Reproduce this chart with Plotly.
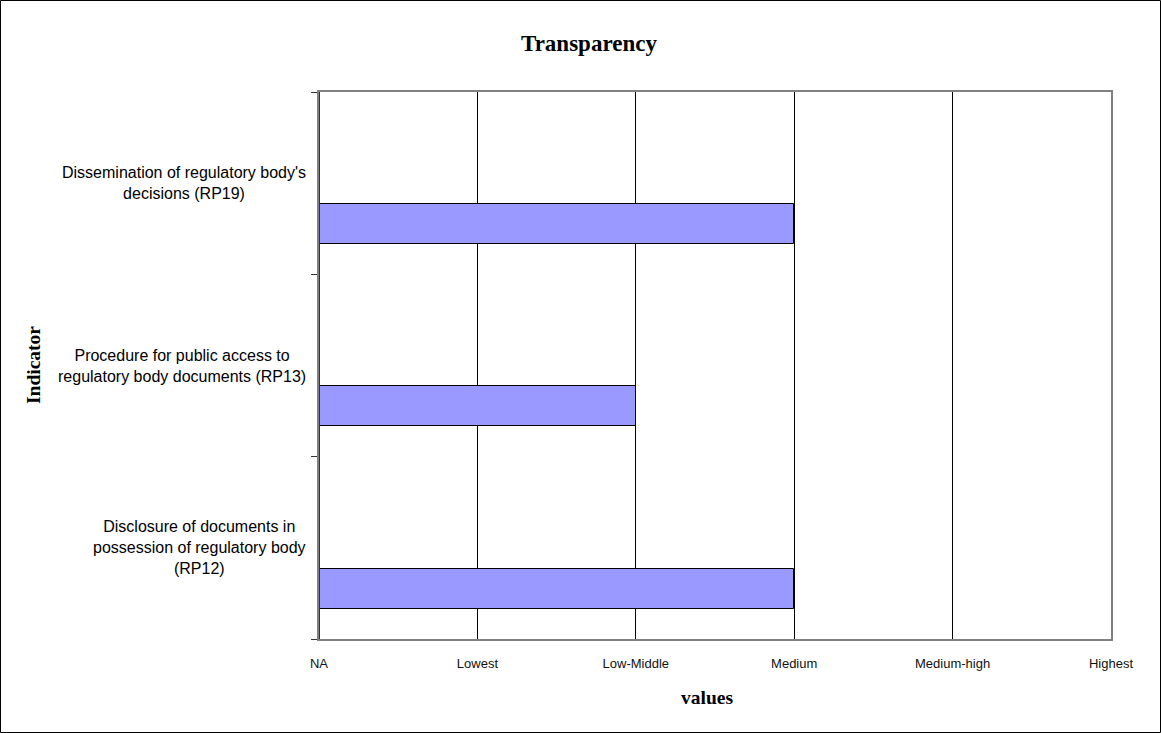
import plotly.graph_objects as go

# ---- data ----
indicators = [
    "Disclosure of documents in<br>possession of regulatory body<br>(RP12)",
    "Procedure for public access to<br>regulatory body documents (RP13)",
    "Dissemination of regulatory body's<br>decisions (RP19)",
]
indicator_keys = ["RP12", "RP13", "RP19"]
values = [3, 2, 3]
level_labels = ["NA", "Lowest", "Low-Middle", "Medium", "Medium-high", "Highest"]
level_values = [0, 1, 2, 3, 4, 5]

# ---- layout geometry ----
W, H = 1161, 733
L, R, T, B = 319, 50, 92, 94
pw, ph = W - L - R, H - T - B

def px_x(px):
    return (px - L) / pw

def px_y(py):
    return (H - B - py) / ph

fig = go.Figure()
fig.add_trace(go.Bar(
    y=indicator_keys,
    x=values,
    orientation="h",
    offset=-0.334,
    width=0.22,
    marker=dict(color="#9999FF", line=dict(color="#000000", width=1)),
    showlegend=False,
    hoverinfo="x+y",
))

annotations = []
for key, label in zip(indicator_keys, indicators):
    annotations.append(dict(
        x=px_x(308), xref="paper", y=key, yref="y",
        xanchor="right", yanchor="middle", align="center",
        text=label, showarrow=False,
        font=dict(family="Arial, Liberation Sans, sans-serif", size=16, color="#000000"),
    ))

annotations += [
    dict(x=px_x(589), xref="paper", y=px_y(43), yref="paper",
         text="<b>Transparency</b>", showarrow=False, xanchor="center", yanchor="middle",
         font=dict(family="Times New Roman, Liberation Serif, serif", size=23, color="#000000")),
    dict(x=px_x(707), xref="paper", y=px_y(697), yref="paper",
         text="<b>values</b>", showarrow=False, xanchor="center", yanchor="middle",
         font=dict(family="Times New Roman, Liberation Serif, serif", size=19.5, color="#000000")),
    dict(x=px_x(33), xref="paper", y=px_y(365), yref="paper",
         text="<b>Indicator</b>", showarrow=False, xanchor="center", yanchor="middle",
         textangle=-90,
         font=dict(family="Times New Roman, Liberation Serif, serif", size=19.5, color="#000000")),
]

shapes = [
    # outer chart border
    dict(type="rect", xref="paper", yref="paper",
         x0=px_x(0.5), x1=px_x(W - 0.5), y0=px_y(H - 0.5), y1=px_y(0.5),
         line=dict(color="#000000", width=1), layer="below"),
    # dark left axis line
    dict(type="line", xref="x", yref="paper", x0=0, x1=0, y0=0, y1=1,
         line=dict(color="#333333", width=2), layer="above"),
]

fig.update_layout(
    width=W, height=H,
    margin=dict(l=L, r=R, t=T, b=B, pad=0),
    paper_bgcolor="white", plot_bgcolor="white",
    annotations=annotations,
    shapes=shapes,
    bargap=0,
)

fig.update_xaxes(
    range=[0, 5],
    tickmode="array", tickvals=level_values, ticktext=level_labels,
    showgrid=True, gridcolor="#000000", gridwidth=1,
    showline=True, linecolor="#808080", linewidth=2, mirror=True,
    ticks="", ticklabelstandoff=11,
    tickfont=dict(family="Arial, Liberation Sans, sans-serif", size=13, color="#111111"),
    zeroline=False, fixedrange=True,
)
fig.update_yaxes(
    type="category", categoryorder="array", categoryarray=indicator_keys,
    range=[-0.5, 2.5],
    showticklabels=False,
    ticks="outside", tickson="boundaries", ticklen=6, tickcolor="#333333", tickwidth=1,
    showgrid=False,
    showline=True, linecolor="#808080", linewidth=2, mirror=True,
    zeroline=False, fixedrange=True,
)

fig.write_html("out.html")
